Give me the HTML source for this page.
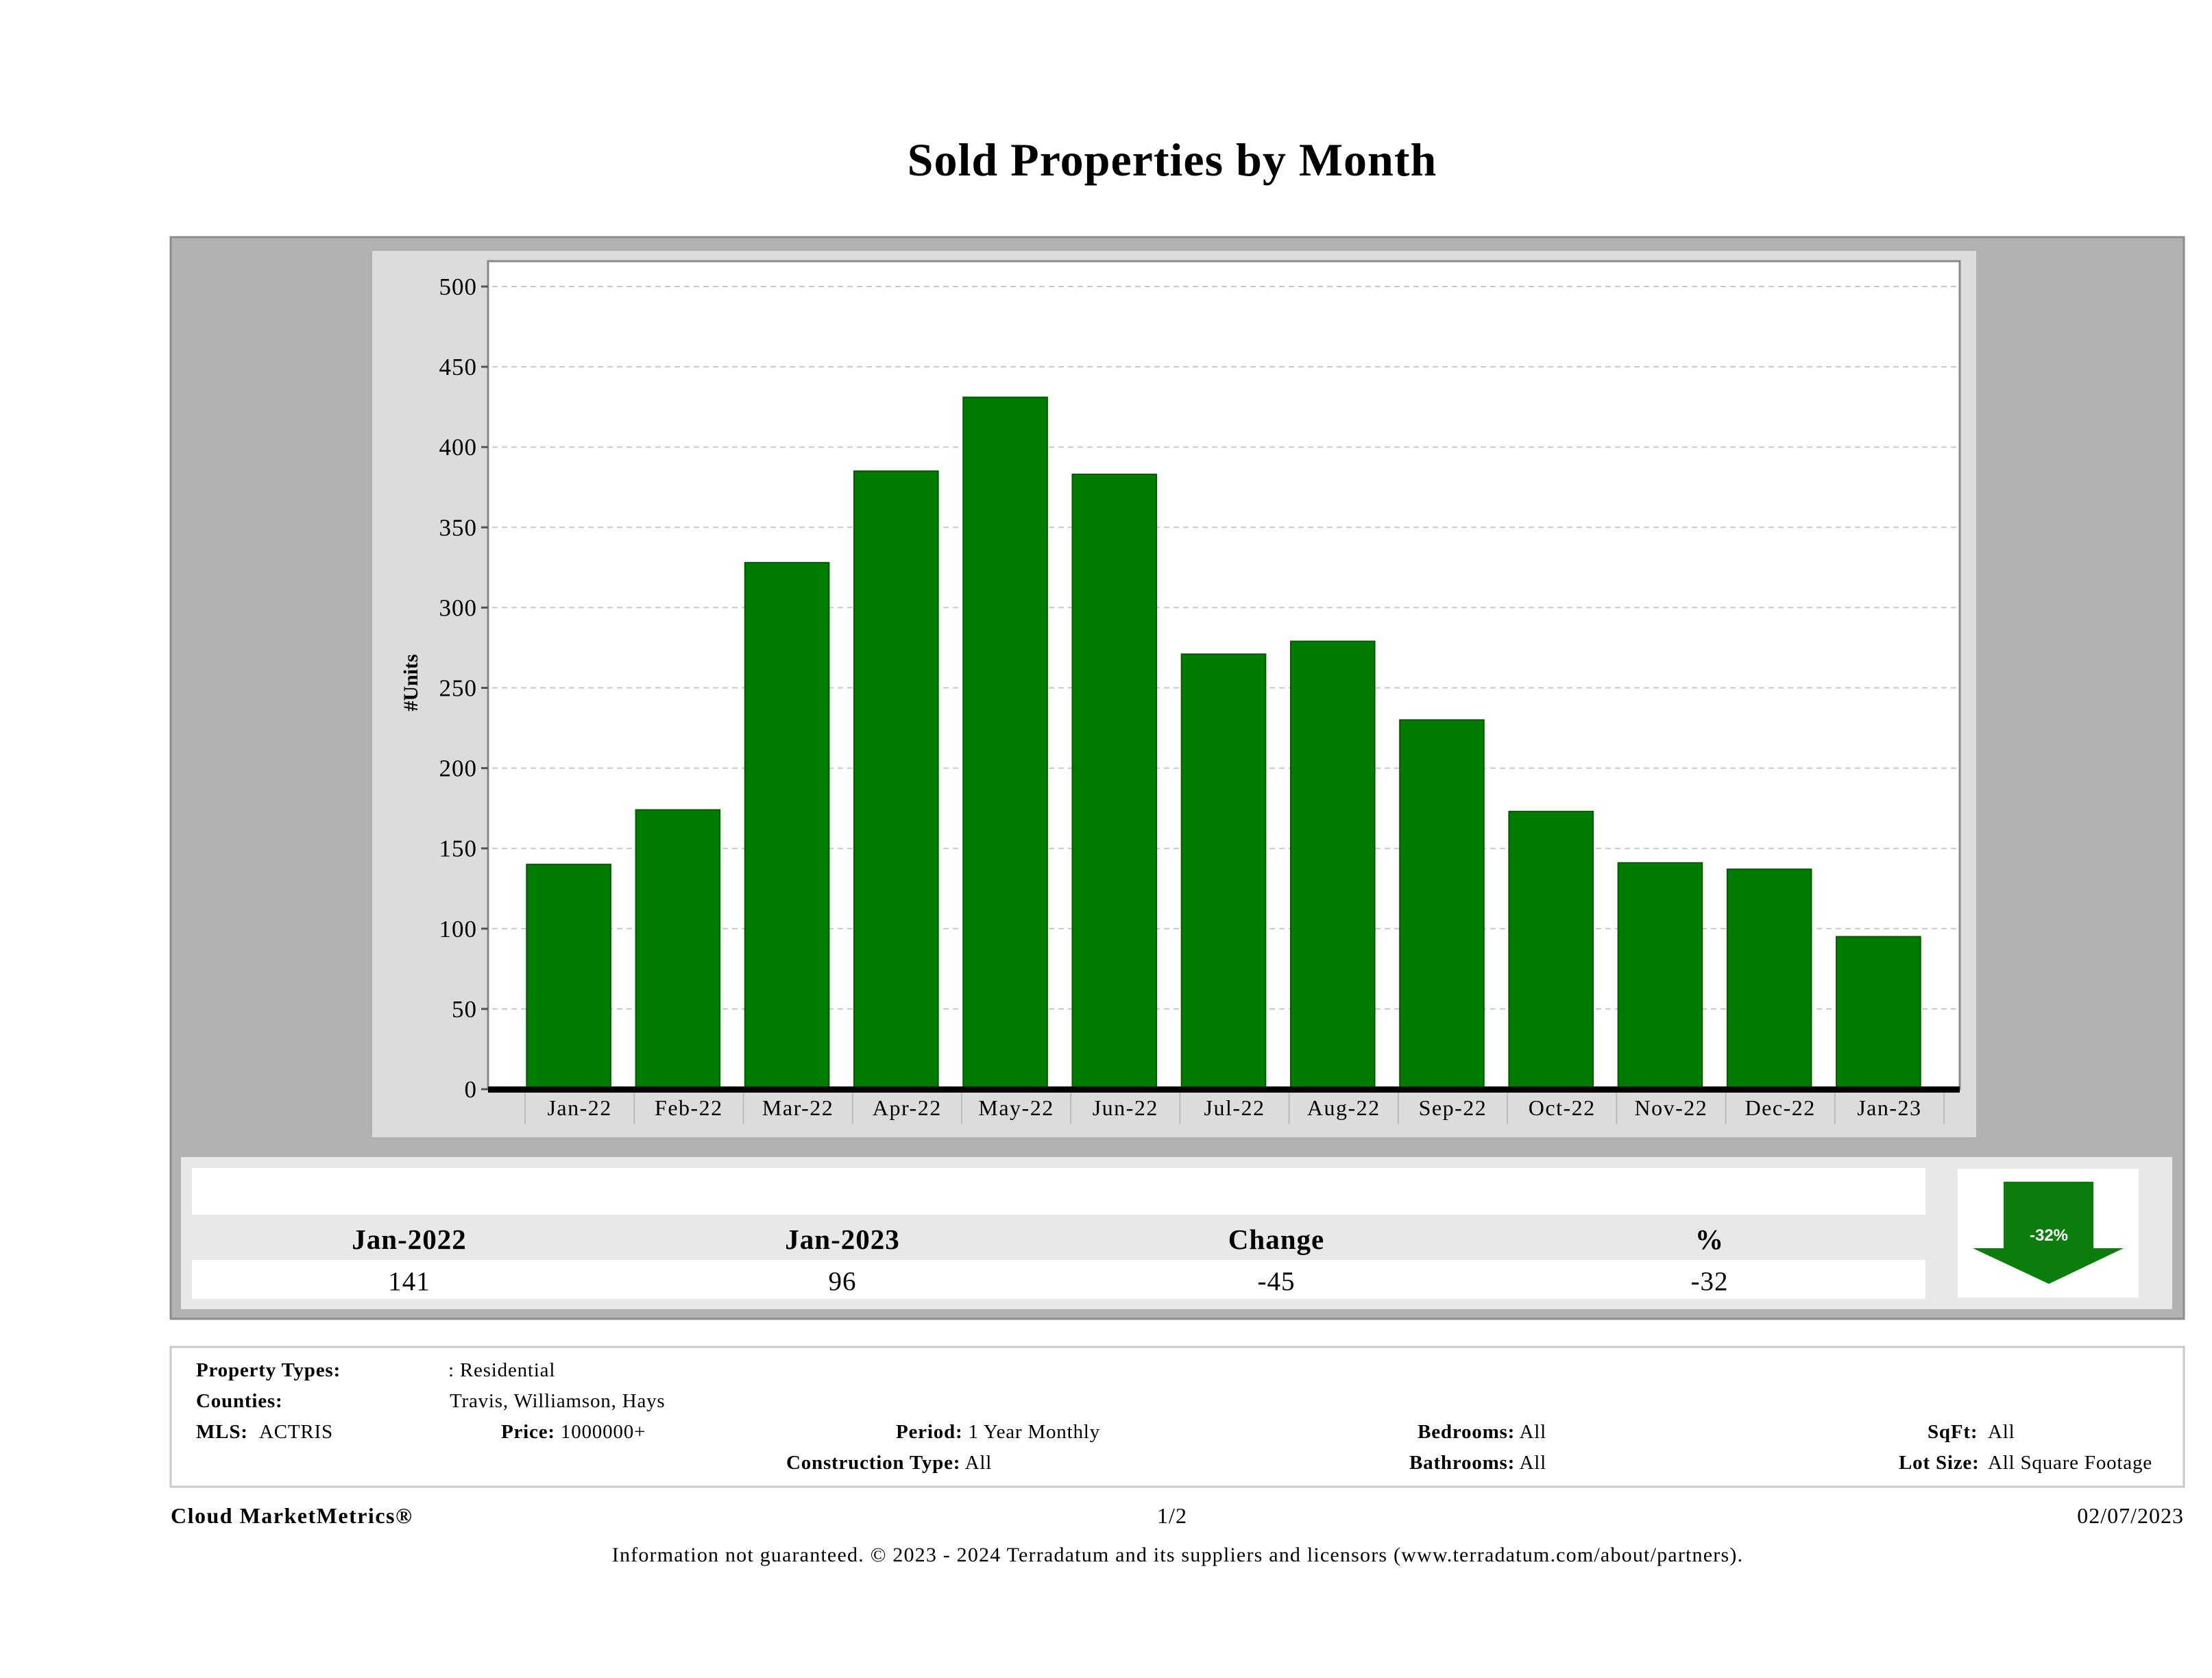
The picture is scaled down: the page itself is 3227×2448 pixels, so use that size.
<!DOCTYPE html>
<html><head><meta charset="utf-8"><style>
html,body{margin:0;padding:0;background:#fff;}
svg{display:block;}
text{font-family:"Liberation Serif",serif;}
</style></head><body>
<svg id="page" width="3227" height="2448" viewBox="0 0 3227 2448" xmlns="http://www.w3.org/2000/svg">
<text x="1710" y="256" text-anchor="middle" font-size="68" font-weight="bold" letter-spacing="1" fill="#000">Sold Properties by Month</text>
<rect x="249" y="346" width="2937" height="1578" fill="#b2b2b2" stroke="#8c8c8c" stroke-width="3"/>
<rect x="543" y="366" width="2340" height="1293" fill="#dcdcdc"/>
<rect x="712" y="381" width="2147" height="1208" fill="#fff" stroke="#888" stroke-width="3"/>
<g id="grid"></g>
<g id="bars"></g>
<g id="yticks"></g>
<g id="xticks"></g>
<rect x="712" y="1585" width="2147" height="9" fill="#000"/>
<text transform="translate(609,996) rotate(-90)" text-anchor="middle" font-size="30" font-weight="bold">#Units</text>

<rect x="264" y="1688" width="2905" height="222" fill="#e8e8e8"/>
<rect x="280" y="1704" width="2529" height="68" fill="#fff"/>
<rect x="280" y="1838" width="2529" height="57" fill="#fff"/>
<g font-size="41" font-weight="bold" text-anchor="middle" letter-spacing="1">
<text x="597" y="1822">Jan-2022</text>
<text x="1229" y="1822">Jan-2023</text>
<text x="1862" y="1822">Change</text>
<text x="2494" y="1822">%</text>
</g>
<g font-size="39" text-anchor="middle" letter-spacing="1">
<text x="597" y="1882">141</text>
<text x="1229" y="1882">96</text>
<text x="1862" y="1882">-45</text>
<text x="2494" y="1882">-32</text>
</g>
<rect x="2856" y="1705" width="264" height="188" fill="#fff"/>
<polygon points="2923,1724 3054,1724 3054,1821 3098,1821 2989,1873 2878,1821 2923,1821" fill="#0a7d0a"/>
<text x="2989" y="1810" text-anchor="middle" font-size="24" font-weight="bold" fill="#fff" style="font-family:'Liberation Sans',sans-serif">-32%</text>

<rect x="249" y="1965" width="2937" height="204" fill="#fff" stroke="#c8c8c8" stroke-width="3"/>
<g font-size="29" letter-spacing="0.8">
<text x="286" y="2008"><tspan font-weight="bold">Property Types:</tspan></text>
<text x="654" y="2008">: Residential</text>
<text x="286" y="2053" font-weight="bold">Counties:</text>
<text x="656" y="2053">Travis, Williamson, Hays</text>
<text x="286" y="2098" font-weight="bold">MLS:</text>
<text x="378" y="2098">ACTRIS</text>
<text x="731" y="2098"><tspan font-weight="bold">Price:</tspan> 1000000+</text>
<text x="1307" y="2098"><tspan font-weight="bold">Period:</tspan> 1 Year Monthly</text>
<text x="2256" y="2098" text-anchor="end"><tspan font-weight="bold">Bedrooms:</tspan> All</text>
<text x="2812" y="2098" font-weight="bold">SqFt:</text>
<text x="2900" y="2098">All</text>
<text x="1147" y="2143"><tspan font-weight="bold">Construction Type:</tspan> All</text>
<text x="2256" y="2143" text-anchor="end"><tspan font-weight="bold">Bathrooms:</tspan> All</text>
<text x="2770" y="2143" font-weight="bold">Lot Size:</text>
<text x="2900" y="2143">All Square Footage</text>
</g>
<text x="249" y="2222" font-size="32" font-weight="bold" letter-spacing="1.5">Cloud MarketMetrics®</text>
<text x="1710" y="2222" font-size="32" text-anchor="middle" letter-spacing="1">1/2</text>
<text x="3186" y="2222" font-size="32" text-anchor="end" letter-spacing="1">02/07/2023</text>
<text x="1718" y="2278" font-size="30" text-anchor="middle" letter-spacing="1.2">Information not guaranteed. © 2023 - 2024 Terradatum and its suppliers and licensors (www.terradatum.com/about/partners).</text>
</svg>
<script>
const categories = ["Jan-22","Feb-22","Mar-22","Apr-22","May-22","Jun-22","Jul-22","Aug-22","Sep-22","Oct-22","Nov-22","Dec-22","Jan-23"];
const soldUnits = [140,174,328,385,431,383,271,279,230,173,141,137,95];
const yTicks = [0,50,100,150,200,250,300,350,400,450,500];

const NS = "http://www.w3.org/2000/svg";
const plotLeft = 712, bandStart = 766, bandEnd = 2836, y0 = 1589, y500 = 418;
const barOffset = -16;
const yScale = v => y0 - (v / 500) * (y0 - y500);
const band = (bandEnd - bandStart) / categories.length;
const xCenter = i => bandStart + band * (i + 0.5);
const barW = band * 0.77;

function mk(tag, attrs, parent) {
  const el = document.createElementNS(NS, tag);
  for (const k in attrs) el.setAttribute(k, attrs[k]);
  parent.appendChild(el);
  return el;
}
const grid = document.getElementById('grid');
const yt = document.getElementById('yticks');
yTicks.forEach(v => {
  const y = yScale(v);
  if (v > 0) {
    const g = mk('line', {x1: plotLeft + 6, x2: 2855, y1: y, y2: y, stroke: '#c8c8c8', 'stroke-width': 2, 'stroke-dasharray': '8 6'}, grid);
    
    
  }
  const tk = mk('line', {x1: plotLeft - 10, x2: plotLeft, y1: y, y2: y, stroke: '#555', 'stroke-width': 3}, yt);
  
  
  const t = mk('text', {x: plotLeft - 16, y: y + 12, 'text-anchor': 'end', 'font-size': 35, 'letter-spacing': 1}, yt);
  t.textContent = v;
  
  
});
const bars = document.getElementById('bars');
const xt = document.getElementById('xticks');
categories.forEach((c, i) => {
  const v = soldUnits[i];
  const b = mk('rect', {x: xCenter(i) + barOffset - barW / 2, y: yScale(v), width: barW, height: y0 - yScale(v), fill: '#007c00', stroke: '#005a00', 'stroke-width': 2}, bars);
  
  
  const sep = mk('line', {x1: bandStart + band * i, x2: bandStart + band * i, y1: 1594, y2: 1640, stroke: '#bbb', 'stroke-width': 2}, xt);
  
  
  const t = mk('text', {x: xCenter(i), y: 1627, 'text-anchor': 'middle', 'font-size': 32, 'letter-spacing': 1.5}, xt);
  t.textContent = c;
  
  
});
const last = mk('line', {x1: bandEnd, x2: bandEnd, y1: 1594, y2: 1640, stroke: '#bbb', 'stroke-width': 2}, xt);


</script>
</body></html>
